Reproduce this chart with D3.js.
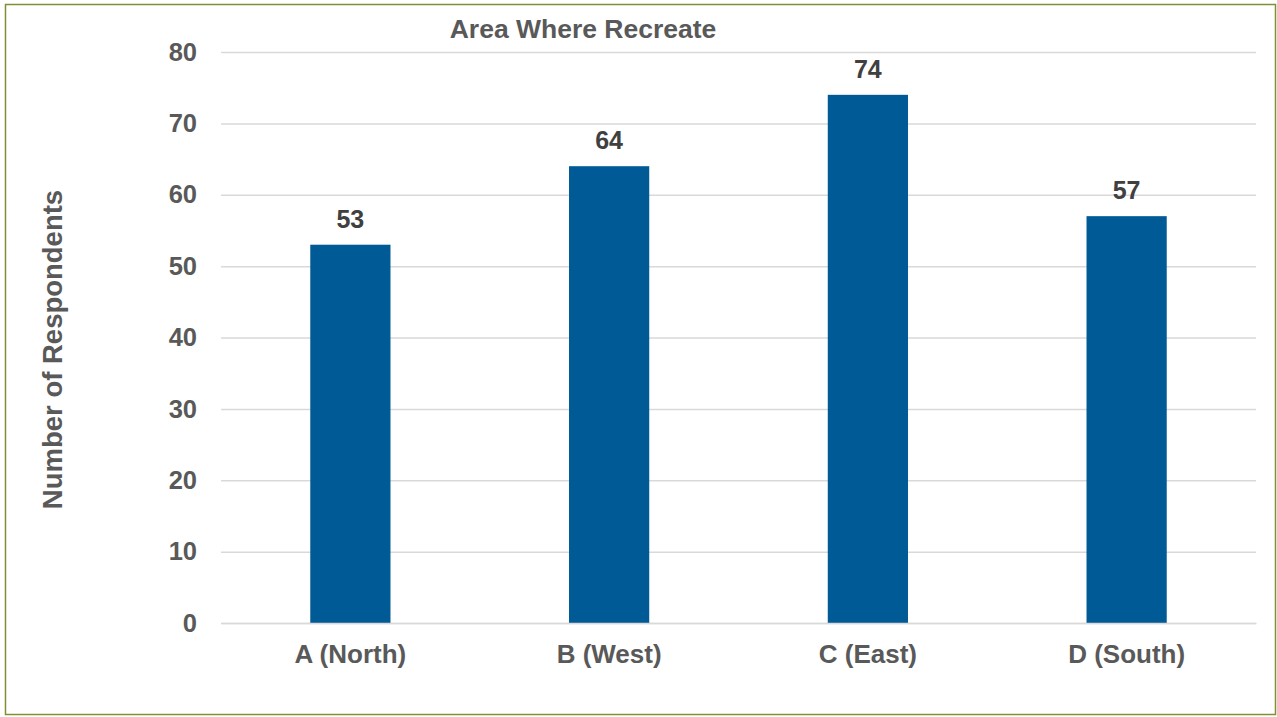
<!DOCTYPE html>
<html>
<head>
<meta charset="utf-8">
<script src="https://cdn.jsdelivr.net/npm/d3@7"></script>
<style>
  html, body { margin: 0; padding: 0; background: #fff; }
  svg { display: block; font-family: "Liberation Sans", Arial, sans-serif; }
</style>
</head>
<body>
<svg id="chart" width="1277" height="717"></svg>
<script>
// Respondents by area
const categories = ["A (North)", "B (West)", "C (East)", "D (South)"];
const respondents = [53, 64, 74, 57];
const yTicks = [0, 10, 20, 30, 40, 50, 60, 70, 80];
const chartTitle = "Area Where Recreate";
const yTitle = "Number of Respondents";

const svg = d3.select("#chart");
const W = 1277, H = 717;
const margin = { top: 52, right: 21, bottom: 94, left: 221 };
const innerW = W - margin.left - margin.right;
const innerH = H - margin.top - margin.bottom;

// Outer frame
svg.append("rect")
  .attr("x", 5.5).attr("y", 4.5)
  .attr("width", W - 7).attr("height", H - 7)
  .attr("fill", "#fff")
  .attr("stroke", "#7f9130").attr("stroke-width", 1.5);

const x = d3.scaleBand().domain(categories).range([0, innerW]).paddingInner(0.69).paddingOuter(0.345);
const y = d3.scaleLinear().domain([0, 80]).range([innerH, 0]);

const g = svg.append("g").attr("transform", `translate(${margin.left},${margin.top})`);

// Gridlines
g.append("g")
  .call(d3.axisLeft(y).tickValues(yTicks).tickSize(-innerW).tickFormat(""))
  .call(s => s.select(".domain").remove())
  .call(s => s.selectAll("line").attr("stroke", "#d9d9d9").attr("stroke-width", 1.5));

// Y tick labels
g.append("g")
  .call(d3.axisLeft(y).tickValues(yTicks).tickSize(0).tickPadding(24))
  .call(s => s.select(".domain").remove())
  .call(s => s.selectAll("text")
    .attr("fill", "#595959").attr("font-size", 25.5).attr("font-weight", "bold"));

// Bars
g.selectAll("rect.bar")
  .data(categories)
  .join("rect")
  .attr("class", "bar")
  .attr("x", d => x(d))
  .attr("width", x.bandwidth())
  .attr("y", (d, i) => y(respondents[i]))
  .attr("height", (d, i) => innerH - y(respondents[i]))
  .attr("fill", "#005a96");

// Value labels
g.selectAll("text.val")
  .data(categories)
  .join("text")
  .attr("class", "val")
  .attr("x", d => x(d) + x.bandwidth() / 2)
  .attr("y", (d, i) => y(respondents[i]) - 17)
  .attr("text-anchor", "middle")
  .attr("fill", "#404040")
  .attr("font-size", 25).attr("font-weight", "bold")
  .text((d, i) => respondents[i]);

// X axis (baseline + category labels)
g.append("g")
  .attr("transform", `translate(0,${innerH})`)
  .call(d3.axisBottom(x).tickSize(0).tickPadding(22))
  .call(s => s.select(".domain").attr("stroke", "#d9d9d9").attr("stroke-width", 1.5))
  .call(s => s.selectAll("text")
    .attr("dy", null).attr("y", 40)
    .attr("fill", "#595959").attr("font-size", 26).attr("font-weight", "bold"));

// Title
svg.append("text")
  .attr("x", 583).attr("y", 38)
  .attr("text-anchor", "middle")
  .attr("fill", "#595959")
  .attr("font-size", 26.5).attr("font-weight", "bold")
  .text(chartTitle);

// Y axis title
svg.append("text")
  .attr("transform", `translate(62,${margin.top + innerH / 2 + 12}) rotate(-90)`)
  .attr("text-anchor", "middle")
  .attr("fill", "#595959")
  .attr("font-size", 27.5).attr("font-weight", "bold")
  .text(yTitle);
</script>
</body>
</html>
